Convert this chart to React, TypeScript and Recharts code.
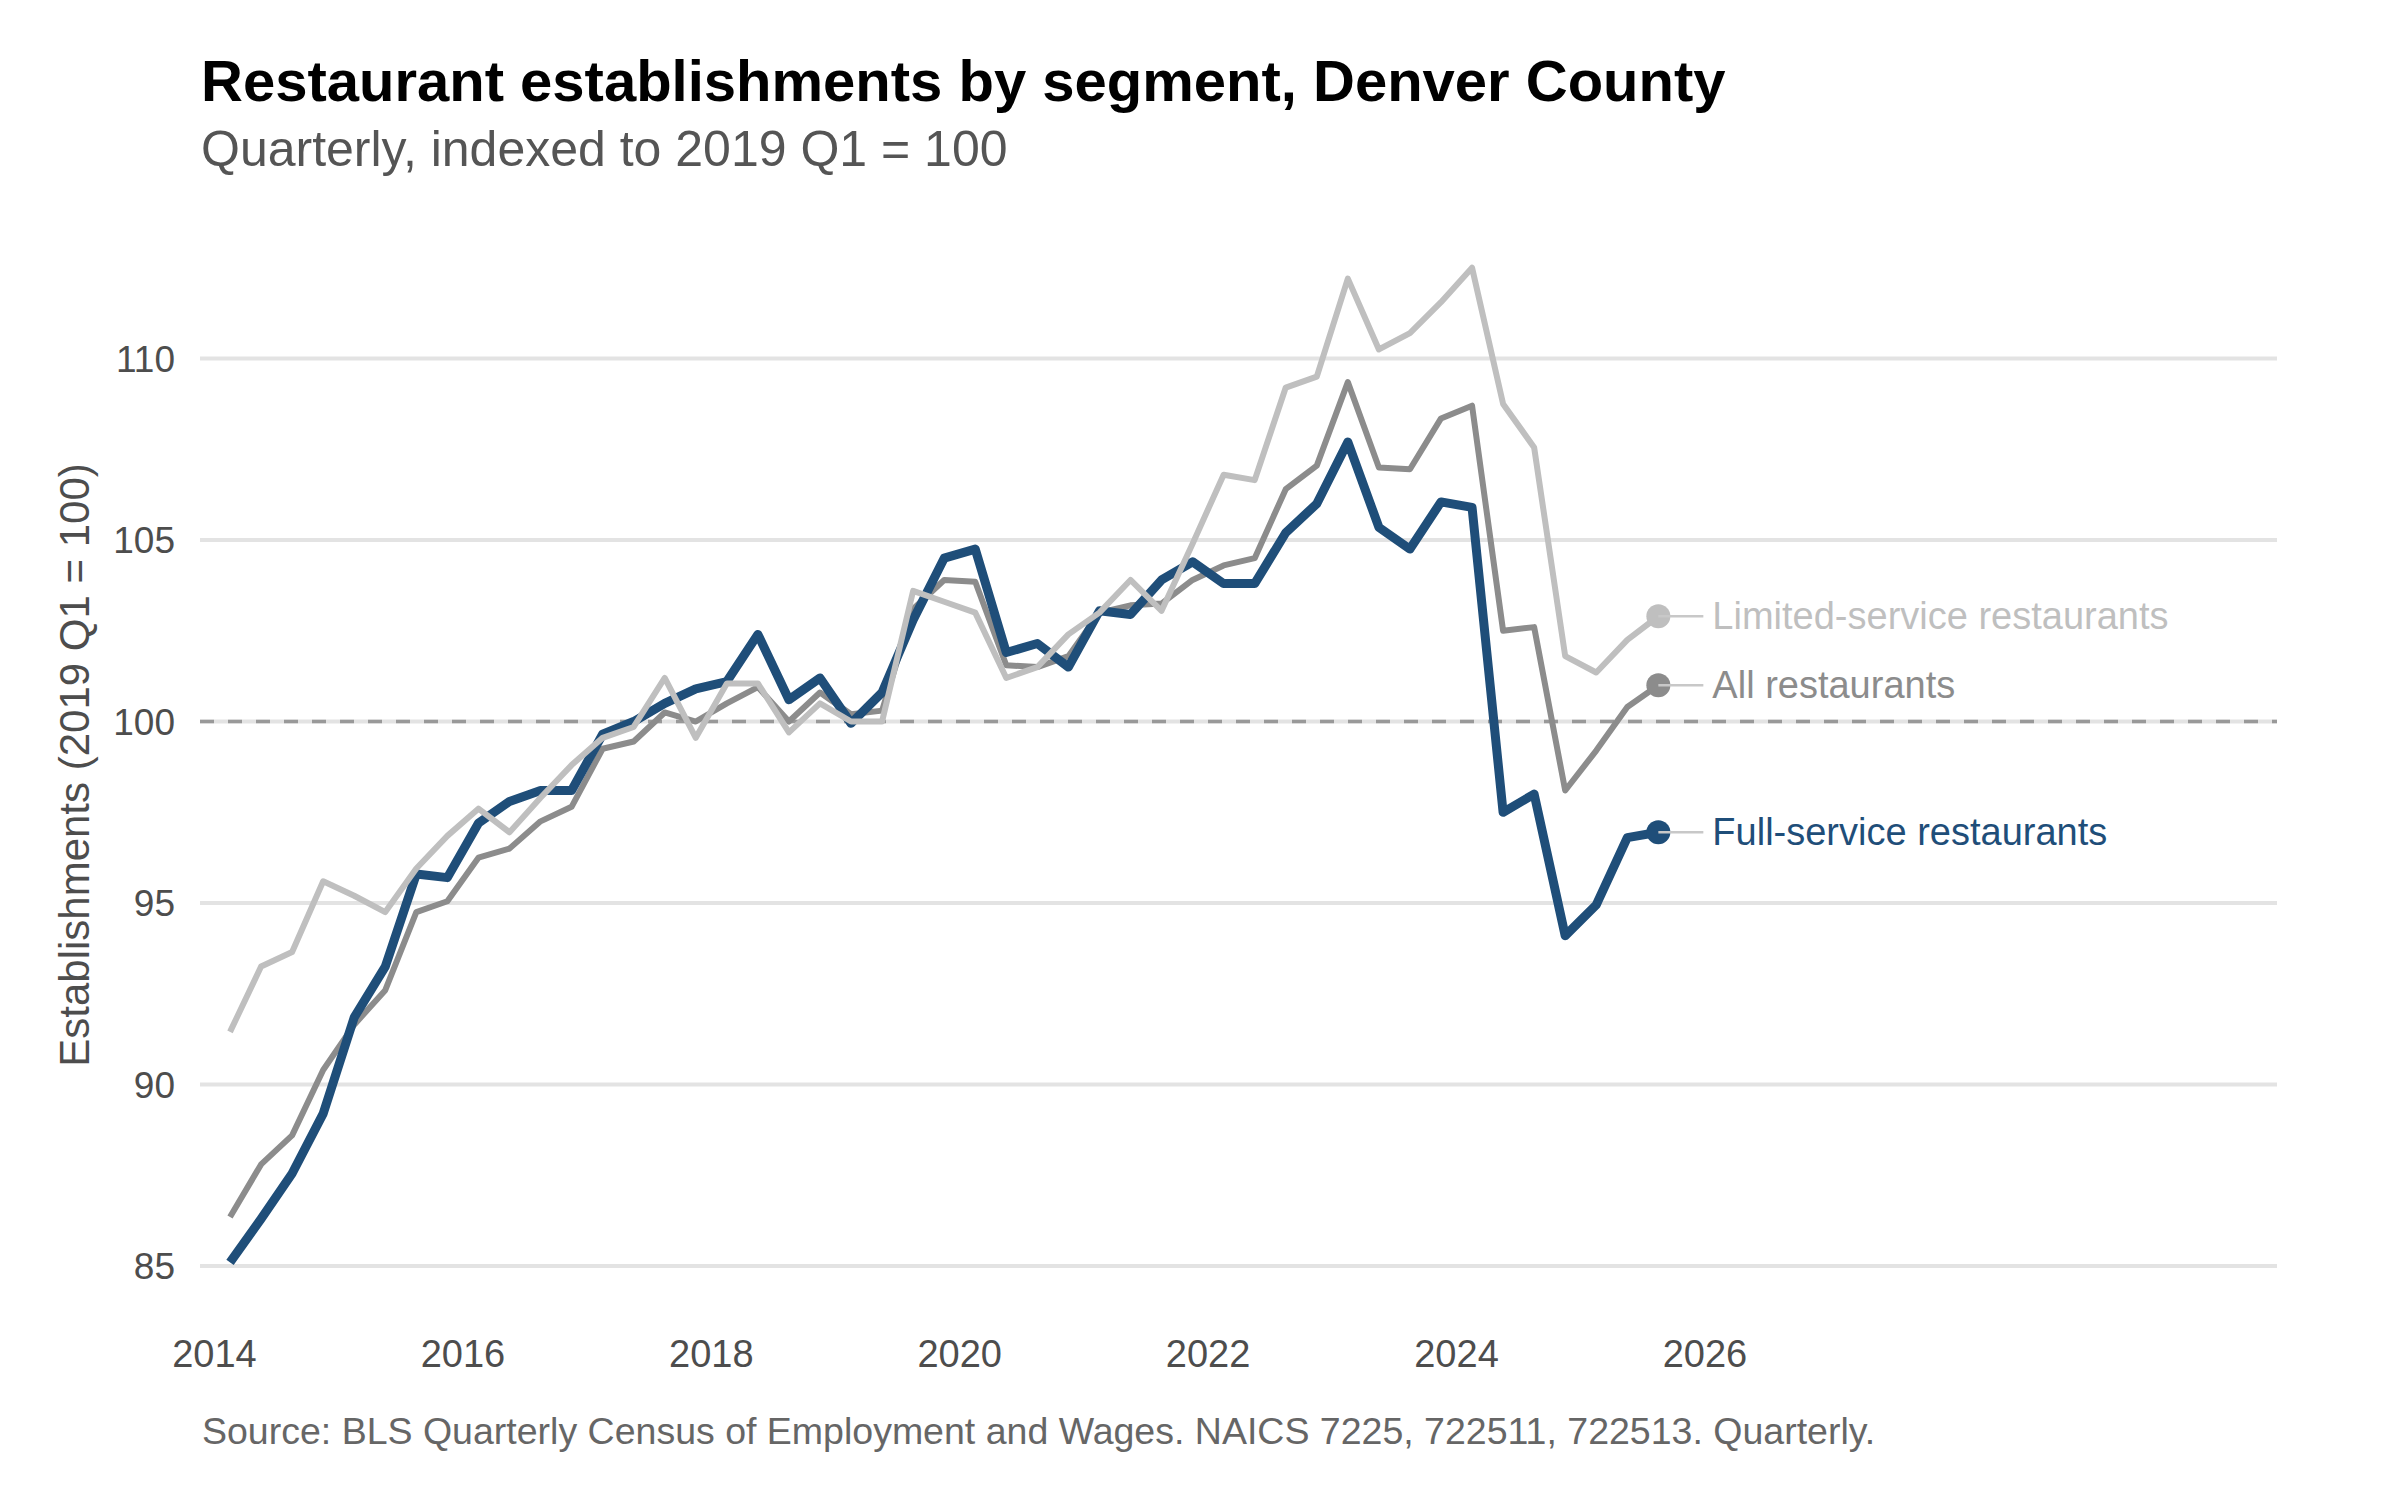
import React from 'react'
import { LineChart, Line, XAxis, YAxis, ReferenceLine } from 'recharts'

const FONT = '"Liberation Sans", Arial, Helvetica, sans-serif'

const periods = [
  '2014 Q1', '2014 Q2', '2014 Q3', '2014 Q4',
  '2015 Q1', '2015 Q2', '2015 Q3', '2015 Q4',
  '2016 Q1', '2016 Q2', '2016 Q3', '2016 Q4',
  '2017 Q1', '2017 Q2', '2017 Q3', '2017 Q4',
  '2018 Q1', '2018 Q2', '2018 Q3', '2018 Q4',
  '2019 Q1', '2019 Q2', '2019 Q3', '2019 Q4',
  '2020 Q1', '2020 Q2', '2020 Q3', '2020 Q4',
  '2021 Q1', '2021 Q2', '2021 Q3', '2021 Q4',
  '2022 Q1', '2022 Q2', '2022 Q3', '2022 Q4',
  '2023 Q1', '2023 Q2', '2023 Q3', '2023 Q4',
  '2024 Q1', '2024 Q2', '2024 Q3', '2024 Q4',
  '2025 Q1', '2025 Q2', '2025 Q3',
]

const allRestaurants = [
  86.35, 87.8, 88.6, 90.4, 91.65, 92.6, 94.75, 95.05,
  96.25, 96.5, 97.25, 97.65, 99.25, 99.45, 100.25, 100.0,
  100.5, 100.95, 100.0, 100.8, 100.2, 100.3, 103.1, 103.9,
  103.85, 101.55, 101.5, 101.8, 103.0, 103.2, 103.25, 103.9,
  104.3, 104.5, 106.4, 107.05, 109.35, 107.0, 106.95, 108.35,
  108.7, 102.5, 102.6, 98.1, 99.2, 100.4, 101.0,
]

const fullService = [
  85.1, 86.3, 87.55, 89.2, 91.85, 93.25, 95.8, 95.7,
  97.2, 97.8, 98.1, 98.1, 99.65, 100.0, 100.5, 100.9,
  101.1, 102.4, 100.6, 101.2, 99.95, 100.8, 102.8, 104.5,
  104.75, 101.9, 102.15, 101.5, 103.05, 102.95, 103.9, 104.4,
  103.8, 103.8, 105.2, 106.0, 107.7, 105.35, 104.75, 106.05,
  105.9, 97.5, 98.0, 94.1, 94.95, 96.8, 96.95,
]

const limitedService = [
  91.45, 93.25, 93.65, 95.6, 95.2, 94.75, 95.95, 96.85,
  97.6, 96.95, 97.9, 98.8, 99.55, 99.85, 101.2, 99.55,
  101.05, 101.05, 99.7, 100.5, 100.0, 100.0, 103.6, 103.3,
  103.0, 101.2, 101.5, 102.4, 103.0, 103.9, 103.05, 104.9,
  106.8, 106.65, 109.2, 109.5, 112.2, 110.25, 110.7, 111.55,
  112.5, 108.75, 107.55, 101.8, 101.35, 102.25, 102.9,
]

const xTicks = [2014, 2016, 2018, 2020, 2022, 2024, 2026]
const yTicks = [85, 90, 95, 100, 105, 110]

// quarters sit in the middle of their quarter on a decimal-year axis
const toYear = (p: string) => {
  const [y, q] = p.split(' Q')
  return Number(y) + (Number(q) - 1) / 4 + 0.125
}

const data = periods.map((p, i) => ({
  t: toYear(p),
  all: allRestaurants[i],
  full: fullService[i],
  limited: limitedService[i],
}))

// draw order: All, Full-service, Limited-service
const series = [
  { key: 'all', name: 'All restaurants', color: '#8c8c8c', width: 6 },
  { key: 'full', name: 'Full-service restaurants', color: '#1f4e79', width: 9 },
  { key: 'limited', name: 'Limited-service restaurants', color: '#bfbfbf', width: 6 },
]

const lastIndex = periods.length - 1

const endLabel = (s: typeof series[number]) => (props: any) => {
  const { cx, cy, index } = props
  if (index !== lastIndex) return <g key={`${s.key}-${index}`} />
  return (
    <g key={`${s.key}-${index}`}>
      <circle cx={cx} cy={cy} r={12} fill={s.color} />
      <line x1={cx} y1={cy} x2={cx + 45} y2={cy} stroke="#c8c8c8" strokeWidth={2.5} />
      <text x={cx + 54} y={cy} dominantBaseline="central" fontSize={38} fill={s.color} fontFamily={FONT}>
        {s.name}
      </text>
    </g>
  )
}

export default function App() {
  return (
    <div style={{ position: 'absolute', left: 0, top: 0, width: 2400, height: 1500, background: '#fff', fontFamily: FONT }}>
      <LineChart
        width={2400}
        height={1500}
        data={data}
        margin={{ top: 213.3, right: 123, bottom: 119.5, left: 100 }}
        style={{ fontFamily: FONT }}
      >
        <XAxis
          dataKey="t"
          type="number"
          domain={[2013.8833, 2030.606]}
          ticks={xTicks}
          allowDataOverflow
          axisLine={false}
          tickLine={false}
          tickSize={0}
          tickMargin={20}
          height={60}
          tick={{ fontSize: 38, fill: '#4d4d4d' }}
        />
        <YAxis
          domain={[83.5, 114]}
          ticks={yTicks}
          allowDataOverflow
          axisLine={false}
          tickLine={false}
          tickSize={0}
          tickMargin={25}
          width={100}
          tick={{ fontSize: 37, fill: '#4d4d4d' }}
        />
        {yTicks.map((v) => (
          <ReferenceLine key={`grid-${v}`} y={v} stroke="#e3e3e3" strokeWidth={4} />
        ))}
        <ReferenceLine y={100} stroke="#999999" strokeWidth={3.5} strokeDasharray="14 14" />
        {series.map((s) => (
          <Line
            key={s.key}
            dataKey={s.key}
            name={s.name}
            type="linear"
            stroke={s.color}
            strokeWidth={s.width}
            strokeLinejoin="round"
            dot={endLabel(s)}
            activeDot={false}
            isAnimationActive={false}
          />
        ))}
      </LineChart>
      <svg
        width={2400}
        height={1500}
        style={{ position: 'absolute', left: 0, top: 0, pointerEvents: 'none' }}
        fontFamily={FONT}
      >
        <text x={201} y={101} fontSize={58} fontWeight="bold" fill="#000">
          Restaurant establishments by segment, Denver County
        </text>
        <text x={201} y={166} fontSize={50} fill="#555555">
          Quarterly, indexed to 2019 Q1 = 100
        </text>
        <text
          x={74}
          y={765}
          transform="rotate(-90 74 765)"
          textAnchor="middle"
          dominantBaseline="central"
          fontSize={42}
          fill="#4d4d4d"
        >
          Establishments (2019 Q1 = 100)
        </text>
        <text x={202} y={1444} fontSize={37.5} fill="#666666">
          Source: BLS Quarterly Census of Employment and Wages. NAICS 7225, 722511, 722513. Quarterly.
        </text>
      </svg>
    </div>
  )
}
